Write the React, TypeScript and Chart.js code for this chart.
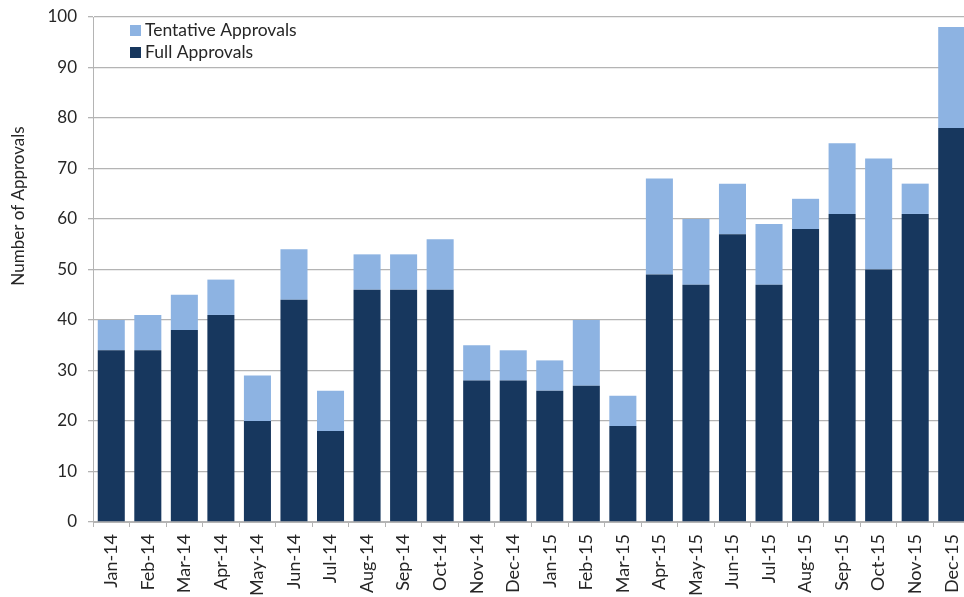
import React, { useEffect, useRef } from "react";
import { Chart, registerables } from "chart.js";

Chart.register(...registerables);

const categories = [
  "Jan-14", "Feb-14", "Mar-14", "Apr-14", "May-14", "Jun-14", "Jul-14", "Aug-14",
  "Sep-14", "Oct-14", "Nov-14", "Dec-14", "Jan-15", "Feb-15", "Mar-15", "Apr-15",
  "May-15", "Jun-15", "Jul-15", "Aug-15", "Sep-15", "Oct-15", "Nov-15", "Dec-15",
];
const fullApprovals = [34, 34, 38, 41, 20, 44, 18, 46, 46, 46, 28, 28, 26, 27, 19, 49, 47, 57, 47, 58, 61, 50, 61, 78];
const tentativeApprovals = [6, 7, 7, 7, 9, 10, 8, 7, 7, 10, 7, 6, 6, 13, 6, 19, 13, 10, 12, 6, 14, 22, 6, 20];
const yTicks = [0, 10, 20, 30, 40, 50, 60, 70, 80, 90, 100];
const yTitle = "Number of Approvals";

const FONT = "Lato, 'Open Sans', sans-serif";
const TEXT = "#262626";
const GRID = "#b4b4b4";

const legendPlugin = {
  id: "insideLegend",
  afterDraw(chart: any) {
    const ctx = chart.ctx;
    const order = [1, 0];
    ctx.save();
    ctx.font = `17.5px ${FONT}`;
    ctx.textBaseline = "middle";
    order.forEach((di, i) => {
      const ds = chart.data.datasets[di];
      const y = 30 + i * 22;
      ctx.fillStyle = ds.backgroundColor;
      ctx.fillRect(130, y - 5, 11, 11);
      ctx.fillStyle = TEXT;
      ctx.fillText(ds.label, 145, y);
    });
    // y axis title
    ctx.translate(19, 206);
    ctx.rotate(-Math.PI / 2);
    ctx.textAlign = "center";
    ctx.font = `17px ${FONT}`;
    ctx.fillStyle = TEXT;
    ctx.fillText(yTitle, 0, 0);
    ctx.restore();
  },
};

export default function App() {
  const ref = useRef<HTMLCanvasElement>(null);
  useEffect(() => {
    document.body.style.margin = "0";
    const chart = new Chart(ref.current!, {
      type: "bar",
      data: {
        labels: categories,
        datasets: [
          { label: "Full Approvals", data: fullApprovals, backgroundColor: "#17375E", barPercentage: 0.74, categoryPercentage: 1 },
          { label: "Tentative Approvals", data: tentativeApprovals, backgroundColor: "#8DB3E2", barPercentage: 0.74, categoryPercentage: 1 },
        ],
      },
      options: {
        responsive: false,
        animation: false,
        layout: { padding: { top: 17, left: 0, right: 0, bottom: 0 } },
        plugins: { legend: { display: false }, tooltip: { enabled: false } },
        scales: {
          x: {
            stacked: true,
            grid: { offset: true, drawOnChartArea: false, drawTicks: true, tickLength: 5, color: GRID },
            border: { color: GRID },
            ticks: { minRotation: 90, maxRotation: 90, autoSkip: false, padding: 7, color: TEXT, font: { family: FONT, size: 18 } },
            afterFit: (s: any) => { s.height = 75; s.paddingLeft = 0; s.paddingRight = 0; },
          },
          y: {
            stacked: true,
            min: 0,
            max: 100,
            afterBuildTicks: (s: any) => { s.ticks = yTicks.map((v) => ({ value: v })); },
            grid: { color: GRID, tickLength: 5, lineWidth: 1.3 },
            border: { color: GRID },
            ticks: { padding: 11, color: TEXT, font: { family: FONT, size: 17 } },
            afterFit: (s: any) => { s.width = 93; s.paddingTop = 0; s.paddingBottom = 0; },
          },
        },
      },
      plugins: [legendPlugin],
    });
    return () => chart.destroy();
  }, []);
  return (
    <div style={{ width: 964, height: 597, overflow: "hidden", background: "#fff" }}>
      <canvas ref={ref} width={970} height={597} style={{ display: "block" }} />
    </div>
  );
}
